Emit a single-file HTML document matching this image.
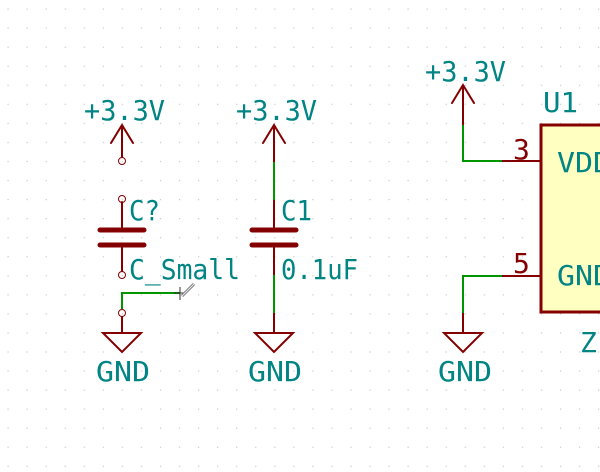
<!DOCTYPE html>
<html><head><meta charset="utf-8"><style>
html,body{margin:0;padding:0;background:#fff;width:600px;height:472px;overflow:hidden}
text{font-family:"DejaVu Sans Mono","Liberation Mono",monospace;}
</style></head><body>
<svg width="600" height="472" viewBox="0 0 600 472" xmlns="http://www.w3.org/2000/svg">
<defs><pattern id="g" x="7" y="8" width="19.05" height="19.05" patternUnits="userSpaceOnUse"><rect x="0.5" y="0.5" width="1.2" height="1.2" fill="#c8c8c8"/></pattern></defs>
<rect width="600" height="472" fill="url(#g)"/>
<g fill="none" stroke-linecap="round">
<g stroke="#840000" stroke-width="2">
<path d="M122 125V157M111 143L122 125L133 143"/>
<circle cx="122" cy="161" r="3.5" stroke-width="1"/>
<circle cx="122" cy="199" r="3.5" stroke-width="1"/>
<path d="M122 202V230M122 245V271"/>
<circle cx="122" cy="275" r="3.5" stroke-width="1"/>
<circle cx="122" cy="313" r="3.5" stroke-width="1"/>
<path d="M122 317V333M103 333H141L122 352Z"/>
<path d="M274 125V162M263 143L274 125L285 143M274 200V230M274 245V275M274 313V333M255 333H293L274 352Z"/>
<path d="M463 85V125M452 103L463 85L474 103M502 161H540M502 276H540M463 313V333M444 333H482L463 352Z"/>
</g>
<g stroke="#840000" stroke-width="5"><path d="M100 230H144M100 245H144M252 230H296M252 245H296"/></g>
<g stroke="#009600" stroke-width="2" stroke-linecap="butt">
<path d="M122 309V293H180"/>
<path d="M274 162V200M274 275V313"/>
<path d="M463 125V161H502M502 276H463V313"/>
</g>
</g>
<rect x="541" y="125" width="70" height="187" fill="#ffffc2" stroke="#840000" stroke-width="3"/>
<path d="M180 287V300M174 293H186" stroke="#333" stroke-width="1"/>
<path d="M182 296L194 284" stroke="#777" stroke-width="3"/>
<path d="M182 296L194 284" stroke="#eee" stroke-width="1"/>
<g fill="#008484" font-size="28">
<text x="84" y="120" textLength="81" lengthAdjust="spacingAndGlyphs">+3.3V</text>
<text x="236" y="120" textLength="81" lengthAdjust="spacingAndGlyphs">+3.3V</text>
<text x="425" y="81" textLength="81" lengthAdjust="spacingAndGlyphs">+3.3V</text>
<text x="129" y="220" textLength="31" lengthAdjust="spacingAndGlyphs">C?</text>
<text x="129" y="279" textLength="111" lengthAdjust="spacingAndGlyphs">C_Small</text>
<text x="281" y="220" textLength="31" lengthAdjust="spacingAndGlyphs">C1</text>
<text x="281" y="279" textLength="77" lengthAdjust="spacingAndGlyphs">0.1uF</text>
<text x="96" y="381" textLength="54" lengthAdjust="spacingAndGlyphs">GND</text>
<text x="248" y="381" textLength="54" lengthAdjust="spacingAndGlyphs">GND</text>
<text x="438" y="381" textLength="54" lengthAdjust="spacingAndGlyphs">GND</text>
<text x="543" y="112" textLength="35" lengthAdjust="spacingAndGlyphs">U1</text>
<text x="557" y="172" textLength="54" lengthAdjust="spacingAndGlyphs">VDD</text>
<text x="557" y="285" textLength="54" lengthAdjust="spacingAndGlyphs">GND</text>
<text x="580" y="352">Z</text>
</g>
<g fill="#840000" font-size="28">
<text x="513" y="159">3</text>
<text x="513" y="273">5</text>
</g>
</svg>
</body></html>
